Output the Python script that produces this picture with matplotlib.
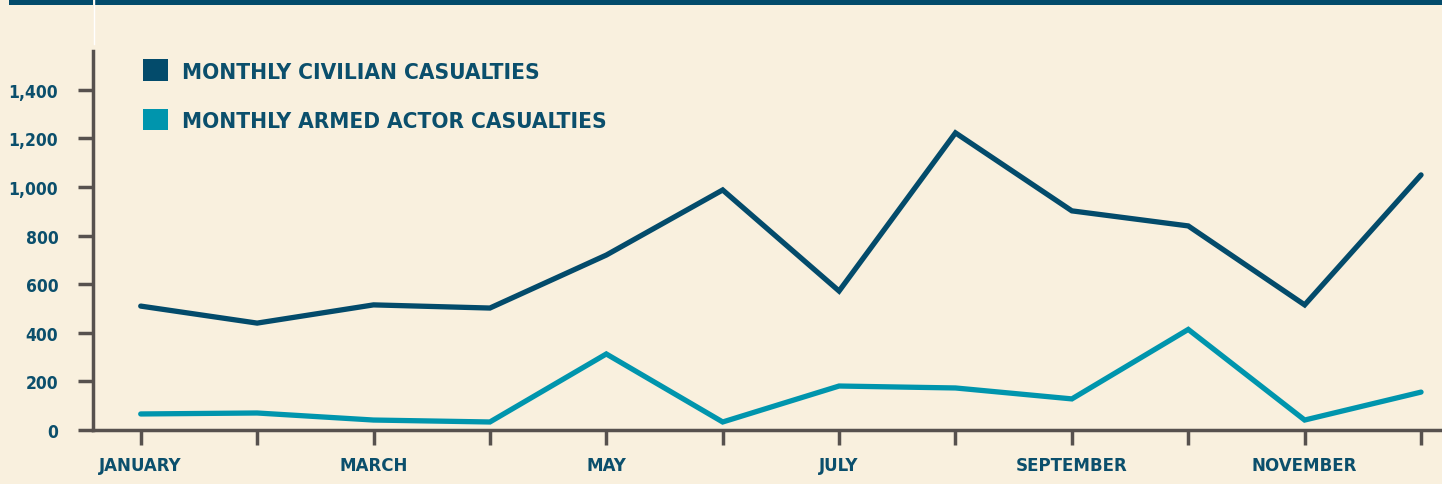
import matplotlib.pyplot as plt
from matplotlib.patches import Rectangle, Patch
from matplotlib.lines import Line2D

months = ['JANUARY', 'FEBRUARY', 'MARCH', 'APRIL', 'MAY', 'JUNE', 'JULY',
          'AUGUST', 'SEPTEMBER', 'OCTOBER', 'NOVEMBER', 'DECEMBER']
civilian = [510, 440, 515, 502, 720, 988, 572, 1223, 902, 840, 515, 1050]
armed = [66, 70, 41, 33, 313, 33, 181, 173, 128, 414, 41, 156]
yticks = [0, 200, 400, 600, 800, 1000, 1200, 1400]

bg = '#F9F0DE'
dark = '#034B6B'
teal = '#0095AD'
txt = '#0B4F6C'
axc = '#57514E'

plt.rcParams['font.family'] = ['DejaVu Sans']

W, H = 1442, 485
fig = plt.figure(figsize=(W / 100, H / 100), dpi=100, facecolor=bg)

# top banner with a thin light gap
fig.add_artist(Rectangle((9 / W, 1 - 5.5 / H), (93 - 9) / W, 5.5 / H,
                         transform=fig.transFigure, color=dark, lw=0))
fig.add_artist(Rectangle((95 / W, 1 - 5.5 / H), 1 - 95 / W, 5.5 / H,
                         transform=fig.transFigure, color=dark, lw=0))
fig.add_artist(Line2D([94 / W, 94 / W], [1, 1 - 45 / H], transform=fig.transFigure,
                      color='white', lw=1))

ax = fig.add_axes([93 / W, (H - 431) / H, 1 - 93 / W, (431 - 52) / H])
ax.set_facecolor(bg)

x = list(range(len(months)))
ax.plot(x, civilian, color=dark, lw=3.8, solid_capstyle='round', solid_joinstyle='miter')
ax.plot(x, armed, color=teal, lw=3.8, solid_capstyle='round', solid_joinstyle='miter')

ax.set_xlim(-0.41, 11.18)
ax.set_ylim(0, 1560)

for s in ['top', 'right']:
    ax.spines[s].set_visible(False)
for s in ['left', 'bottom']:
    ax.spines[s].set_color(axc)
    ax.spines[s].set_linewidth(2.5)

ax.set_xticks(x)
ax.set_xticklabels([m if i % 2 == 0 else '' for i, m in enumerate(months)])
ax.set_yticks(yticks)
ax.set_yticklabels(['{:,}'.format(v) for v in yticks])
ax.tick_params(axis='both', direction='out', length=11, width=2.5, color=axc,
               labelcolor=txt, labelsize=13)
ax.tick_params(axis='x', pad=7.5, labelsize=13.3)
ax.tick_params(axis='y', pad=14, labelsize=12.5)
for lab in ax.get_xticklabels() + ax.get_yticklabels():
    lab.set_fontweight('bold')
    lab.set_fontstretch('condensed')

handles = [Patch(facecolor=dark, edgecolor='none'), Patch(facecolor=teal, edgecolor='none')]
leg = ax.legend(handles, ['MONTHLY CIVILIAN CASUALTIES', 'MONTHLY ARMED ACTOR CASUALTIES'],
                loc='upper left', bbox_to_anchor=(0.037, 0.978), frameon=False,
                borderaxespad=0, borderpad=0,
                handlelength=1.1, handleheight=1.1, handletextpad=0.62,
                labelspacing=1.2, prop={'weight': 'bold', 'size': 16.2, 'stretch': 'condensed'})
for t in leg.get_texts():
    t.set_color(txt)

fig.savefig('out.png', dpi=100, facecolor=bg)
